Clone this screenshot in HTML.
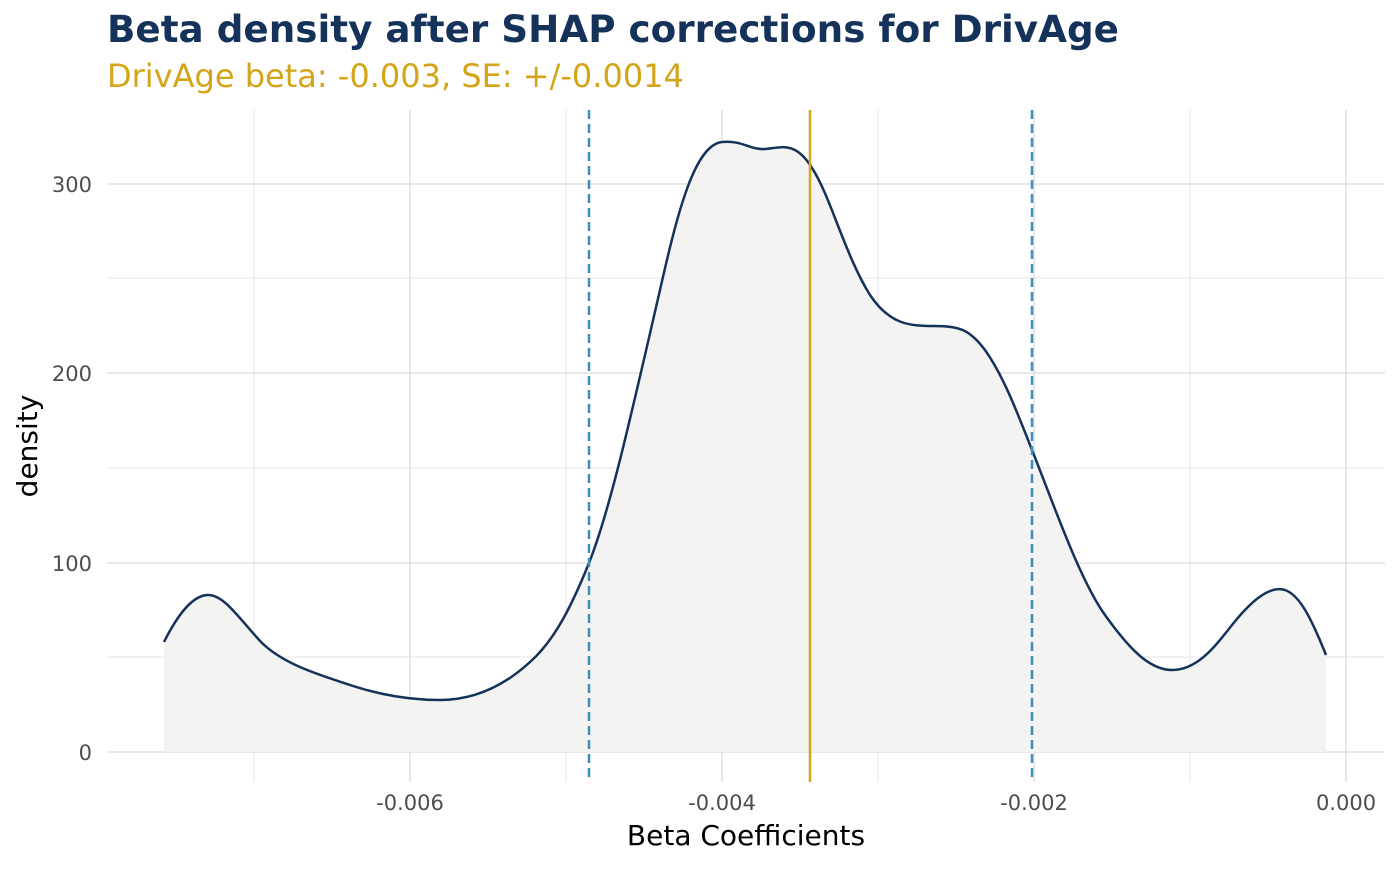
<!DOCTYPE html>
<html><head><meta charset="utf-8"><style>
body{margin:0;background:#fff;}
</style></head><body>
<svg width="1400" height="866" xmlns="http://www.w3.org/2000/svg" font-family="'DejaVu Sans','Liberation Sans',sans-serif">
<rect width="1400" height="866" fill="#fff"/>
<text x="107" y="42" font-size="37.3" font-weight="bold" fill="#15335a">Beta density after SHAP corrections for DrivAge</text>
<text x="107" y="87" font-size="32" fill="#d4a419">DrivAge beta: -0.003, SE: +/-0.0014</text>
<g stroke="#e6e6e6" stroke-width="1">
<line x1="254" y1="110" x2="254" y2="782"/><line x1="566" y1="110" x2="566" y2="782"/><line x1="878" y1="110" x2="878" y2="782"/><line x1="1190" y1="110" x2="1190" y2="782"/>
<line x1="107" y1="657" x2="1385" y2="657"/><line x1="107" y1="468" x2="1385" y2="468"/><line x1="107" y1="278" x2="1385" y2="278"/>
</g>
<g stroke="#dcdcdc" stroke-width="1.3">
<line x1="410" y1="110" x2="410" y2="782"/><line x1="722" y1="110" x2="722" y2="782"/><line x1="1034" y1="110" x2="1034" y2="782"/><line x1="1346" y1="110" x2="1346" y2="782"/>
<line x1="107" y1="752" x2="1385" y2="752"/><line x1="107" y1="563" x2="1385" y2="563"/><line x1="107" y1="373" x2="1385" y2="373"/><line x1="107" y1="184" x2="1385" y2="184"/>
</g>
<path d="M164,642 C180,610 195,595 208,595 C225,595 240,620 262,643 C285,665 320,675 350,685 C380,695 410,700 440,700 C475,700 505,685 530,662 C555,640 572,605 589,563 C610,510 630,420 660,290 C678,210 695,145 722,142 C742,140 750,150 765,149 C780,148 795,140 812,168 C830,195 845,255 870,295 C890,325 910,326 935,326 C960,326 970,330 985,350 C1005,378 1020,420 1034,455 C1055,508 1080,580 1105,615 C1130,650 1150,670 1172,670 C1205,670 1225,630 1245,610 C1262,592 1275,587 1285,590 C1300,595 1312,620 1326,655 L1326,752 L164,752 Z" fill="#f3f3f1" stroke="none"/>
<path d="M164,642 C180,610 195,595 208,595 C225,595 240,620 262,643 C285,665 320,675 350,685 C380,695 410,700 440,700 C475,700 505,685 530,662 C555,640 572,605 589,563 C610,510 630,420 660,290 C678,210 695,145 722,142 C742,140 750,150 765,149 C780,148 795,140 812,168 C830,195 845,255 870,295 C890,325 910,326 935,326 C960,326 970,330 985,350 C1005,378 1020,420 1034,455 C1055,508 1080,580 1105,615 C1130,650 1150,670 1172,670 C1205,670 1225,630 1245,610 C1262,592 1275,587 1285,590 C1300,595 1312,620 1326,655" fill="none" stroke="#15335a" stroke-width="2.5"/>
<line x1="589" y1="110" x2="589" y2="782" stroke="#3a8fc0" stroke-width="2.5" stroke-dasharray="9,5"/>
<line x1="1032" y1="110" x2="1032" y2="782" stroke="#3a8fc0" stroke-width="2.5" stroke-dasharray="9,5"/>
<line x1="810" y1="110" x2="810" y2="782" stroke="#d4a419" stroke-width="2.5"/>
<g font-size="21" fill="#4d4d4d" text-anchor="end">
<text x="92" y="760">0</text><text x="92" y="571">100</text><text x="92" y="381">200</text><text x="92" y="192">300</text>
</g>
<g font-size="21" fill="#4d4d4d" text-anchor="middle">
<text x="410" y="810">-0.006</text><text x="722" y="810">-0.004</text><text x="1034" y="810">-0.002</text><text x="1346" y="810">0.000</text>
</g>
<text x="746" y="845" font-size="28" text-anchor="middle" fill="#000">Beta Coefficients</text>
<text transform="translate(37,446) rotate(-90)" font-size="28" text-anchor="middle" fill="#000">density</text>
</svg>
</body></html>
